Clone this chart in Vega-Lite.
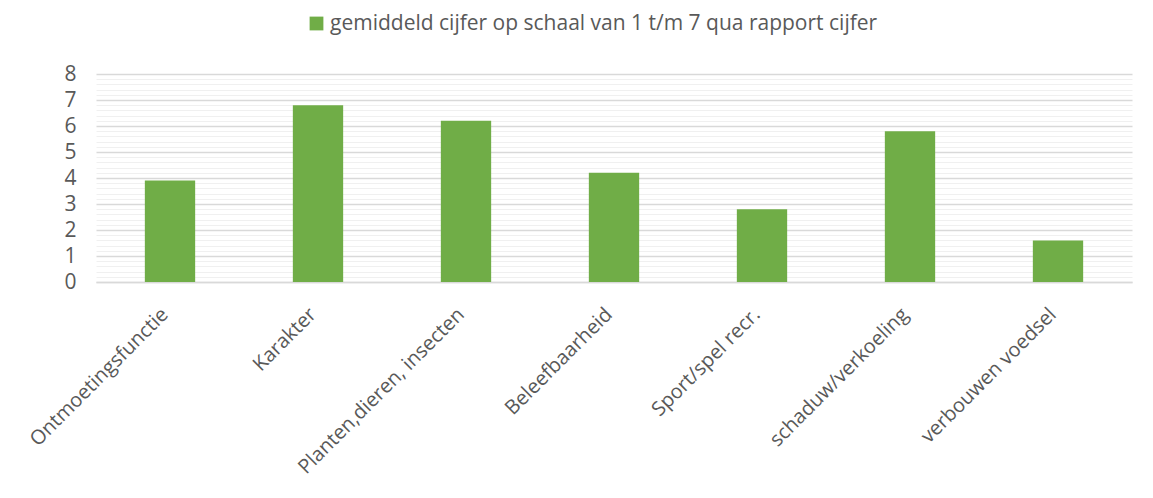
{
  "$schema": "https://vega.github.io/schema/vega-lite/v6.json",
  "autosize": {"type": "none"},
  "width": 1036,
  "height": 208,
  "padding": {"left": 96, "top": 74, "right": 21, "bottom": 216},
  "background": "white",
  "data": {"values": [
    {"categorie": "Ontmoetingsfunctie", "cijfer": 3.9, "reeks": "gemiddeld cijfer op schaal van 1 t/m 7 qua rapport cijfer"},
    {"categorie": "Karakter", "cijfer": 6.8, "reeks": "gemiddeld cijfer op schaal van 1 t/m 7 qua rapport cijfer"},
    {"categorie": "Planten,dieren, insecten", "cijfer": 6.2, "reeks": "gemiddeld cijfer op schaal van 1 t/m 7 qua rapport cijfer"},
    {"categorie": "Beleefbaarheid", "cijfer": 4.2, "reeks": "gemiddeld cijfer op schaal van 1 t/m 7 qua rapport cijfer"},
    {"categorie": "Sport/spel recr.", "cijfer": 2.8, "reeks": "gemiddeld cijfer op schaal van 1 t/m 7 qua rapport cijfer"},
    {"categorie": "schaduw/verkoeling", "cijfer": 5.8, "reeks": "gemiddeld cijfer op schaal van 1 t/m 7 qua rapport cijfer"},
    {"categorie": "verbouwen voedsel", "cijfer": 1.6, "reeks": "gemiddeld cijfer op schaal van 1 t/m 7 qua rapport cijfer"}
  ]},
  "mark": {"type": "bar"},
  "encoding": {
    "x": {
      "field": "categorie", "type": "nominal", "sort": null,
      "scale": {"paddingInner": 0.66, "paddingOuter": 0.33},
      "axis": {
        "title": null, "labelAngle": -45, "labelFontSize": 20, "labelColor": "#595959",
        "labelFont": "Open Sans", "ticks": false, "domain": true, "domainColor": "#d9d9d9", "domainWidth": 1.5,
        "labelPadding": 22, "labelOffset": -12, "labelLimit": 400, "grid": false, "labelOverlap": false
      }
    },
    "y": {
      "field": "cijfer", "type": "quantitative",
      "scale": {"domain": [0, 8], "nice": false},
      "axis": {
        "title": null,
        "values": [0,0.2,0.4,0.6,0.8,1,1.2,1.4,1.6,1.8,2,2.2,2.4,2.6,2.8,3,3.2,3.4,3.6,3.8,4,4.2,4.4,4.6,4.8,5,5.2,5.4,5.6,5.8,6,6.2,6.4,6.6,6.8,7,7.2,7.4,7.6,7.8,8],
        "labelExpr": "abs(datum.value - round(datum.value)) < 0.001 ? format(datum.value, 'd') : ''",
        "labelOverlap": false,
        "grid": true,
        "gridColor": {"condition": {"test": "abs(datum.value - round(datum.value)) < 0.001", "value": "#d9d9d9"}, "value": "#f0f0f0"},
        "gridWidth": {"condition": {"test": "abs(datum.value - round(datum.value)) < 0.001", "value": 1.5}, "value": 1},
        "ticks": false, "domain": false,
        "labelFontSize": 21, "labelColor": "#595959", "labelFont": "Open Sans", "labelPadding": 20
      }
    },
    "color": {
      "field": "reeks", "type": "nominal",
      "scale": {"range": ["#70AD47"]},
      "legend": {
        "title": null, "orient": "none", "legendX": 210, "legendY": -61, "direction": "horizontal",
        "symbolType": "square", "symbolSize": 190,
        "labelFontSize": 21, "labelColor": "#595959", "labelFont": "Open Sans",
        "labelLimit": 800, "symbolStrokeWidth": 0, "labelOffset": 3
      }
    }
  },
  "config": {
    "view": {"stroke": null}
  }
}
